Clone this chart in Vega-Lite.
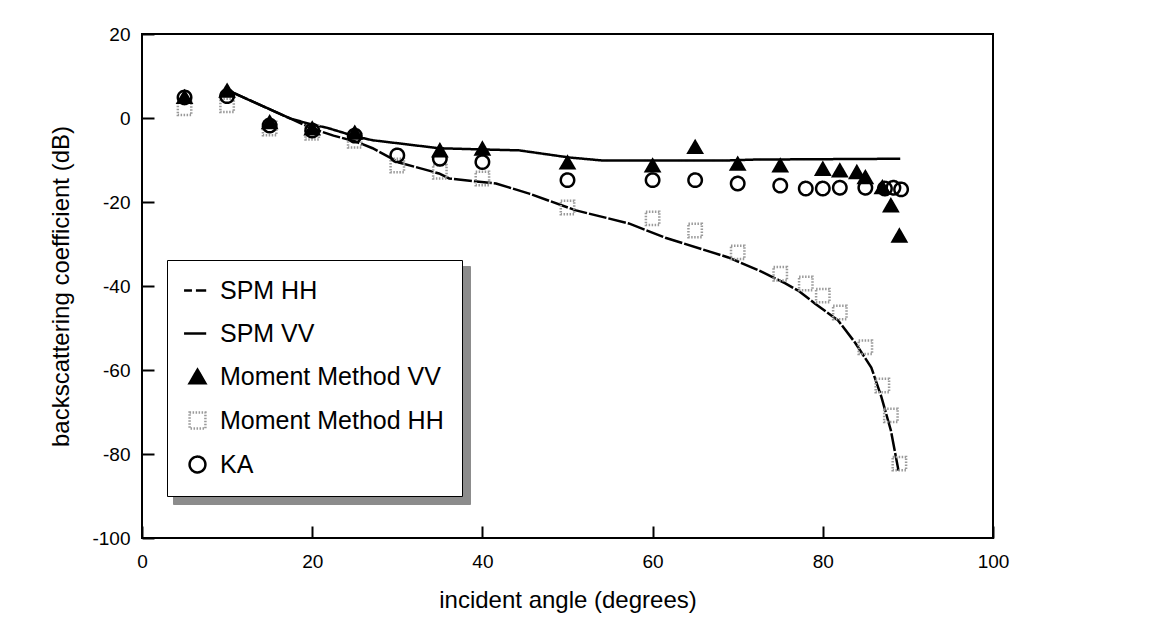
{
  "$schema": "https://vega.github.io/schema/vega-lite/v6.json",
  "width": 851,
  "height": 504,
  "autosize": {"type": "none"},
  "padding": {"left": 142, "top": 34, "right": 165, "bottom": 98},
  "background": "white",
  "config": {
    "view": {"stroke": "black", "strokeWidth": 2},
    "axis": {
      "domain": false,
      "grid": false,
      "labelFont": "Liberation Sans",
      "labelFontSize": 19,
      "labelColor": "black",
      "labelFlush": false,
      "titleFont": "Liberation Sans",
      "titleFontSize": 24,
      "titleFontWeight": "normal",
      "titleColor": "black",
      "tickColor": "black",
      "tickWidth": 2,
      "tickSize": 12
    },
    "legend": {
      "orient": "none",
      "legendX": 25,
      "legendY": 226,
      "strokeColor": "black",
      "fillColor": "white",
      "padding": 18,
      "labelFont": "Liberation Sans",
      "labelFontSize": 25,
      "labelColor": "black",
      "labelLimit": 500,
      "symbolSize": 250,
      "symbolStrokeWidth": 2.5,
      "symbolOpacity": 1,
      "rowPadding": 17,
      "labelOffset": 10,
      "zindex": 2
    }
  },
  "datasets": {
    "lines": [
      {"series": "SPM HH", "angle": 10.5, "db": 6.2},
      {"series": "SPM HH", "angle": 17.4, "db": -0.1},
      {"series": "SPM HH", "angle": 20, "db": -2.5},
      {"series": "SPM HH", "angle": 22.5, "db": -4.2},
      {"series": "SPM HH", "angle": 25.1, "db": -5.6},
      {"series": "SPM HH", "angle": 27.1, "db": -7.2},
      {"series": "SPM HH", "angle": 30.2, "db": -10.6},
      {"series": "SPM HH", "angle": 34.9, "db": -13.2},
      {"series": "SPM HH", "angle": 36.1, "db": -14.4},
      {"series": "SPM HH", "angle": 41.6, "db": -15.6},
      {"series": "SPM HH", "angle": 45.5, "db": -18},
      {"series": "SPM HH", "angle": 51, "db": -22},
      {"series": "SPM HH", "angle": 57.2, "db": -25.1},
      {"series": "SPM HH", "angle": 61.5, "db": -28.5},
      {"series": "SPM HH", "angle": 68.9, "db": -33.2},
      {"series": "SPM HH", "angle": 72.5, "db": -36.3},
      {"series": "SPM HH", "angle": 75.6, "db": -39.4},
      {"series": "SPM HH", "angle": 77.1, "db": -41.1},
      {"series": "SPM HH", "angle": 79.1, "db": -44.2},
      {"series": "SPM HH", "angle": 81.8, "db": -48.2},
      {"series": "SPM HH", "angle": 83.8, "db": -53.5},
      {"series": "SPM HH", "angle": 85.7, "db": -59.4},
      {"series": "SPM HH", "angle": 86.9, "db": -66.5},
      {"series": "SPM HH", "angle": 88, "db": -74.4},
      {"series": "SPM HH", "angle": 88.9, "db": -84},
      {"series": "SPM VV", "angle": 10.5, "db": 6.2},
      {"series": "SPM VV", "angle": 17.4, "db": -0.1},
      {"series": "SPM VV", "angle": 20, "db": -1.6},
      {"series": "SPM VV", "angle": 21.7, "db": -2.3},
      {"series": "SPM VV", "angle": 25.1, "db": -4.4},
      {"series": "SPM VV", "angle": 27.1, "db": -5.3},
      {"series": "SPM VV", "angle": 30, "db": -6},
      {"series": "SPM VV", "angle": 34.9, "db": -7.2},
      {"series": "SPM VV", "angle": 40.2, "db": -7.5},
      {"series": "SPM VV", "angle": 44.3, "db": -7.7},
      {"series": "SPM VV", "angle": 50.2, "db": -9.4},
      {"series": "SPM VV", "angle": 54, "db": -10.1},
      {"series": "SPM VV", "angle": 68.9, "db": -10.1},
      {"series": "SPM VV", "angle": 72, "db": -9.9},
      {"series": "SPM VV", "angle": 89.1, "db": -9.7}
    ],
    "points": [
      {"series": "Moment Method HH", "angle": 5, "db": 2.3},
      {"series": "Moment Method HH", "angle": 10, "db": 3},
      {"series": "Moment Method HH", "angle": 15, "db": -2.5},
      {"series": "Moment Method HH", "angle": 20, "db": -3.5},
      {"series": "Moment Method HH", "angle": 25, "db": -5.4},
      {"series": "Moment Method HH", "angle": 30, "db": -11.3},
      {"series": "Moment Method HH", "angle": 35, "db": -12.8},
      {"series": "Moment Method HH", "angle": 40, "db": -14.4},
      {"series": "Moment Method HH", "angle": 50, "db": -21.3},
      {"series": "Moment Method HH", "angle": 60, "db": -23.9},
      {"series": "Moment Method HH", "angle": 65, "db": -26.8},
      {"series": "Moment Method HH", "angle": 70, "db": -32},
      {"series": "Moment Method HH", "angle": 75, "db": -37.1},
      {"series": "Moment Method HH", "angle": 78, "db": -39.4},
      {"series": "Moment Method HH", "angle": 80, "db": -42.3},
      {"series": "Moment Method HH", "angle": 82, "db": -46.3},
      {"series": "Moment Method HH", "angle": 85, "db": -54.6},
      {"series": "Moment Method HH", "angle": 87, "db": -63.7},
      {"series": "Moment Method HH", "angle": 88, "db": -70.8},
      {"series": "Moment Method HH", "angle": 89, "db": -82.3},
      {"series": "KA", "angle": 5, "db": 4.9},
      {"series": "KA", "angle": 10, "db": 5.2},
      {"series": "KA", "angle": 15, "db": -1.8},
      {"series": "KA", "angle": 20, "db": -3},
      {"series": "KA", "angle": 25, "db": -4.2},
      {"series": "KA", "angle": 30, "db": -8.9},
      {"series": "KA", "angle": 35, "db": -9.7},
      {"series": "KA", "angle": 40, "db": -10.5},
      {"series": "KA", "angle": 50, "db": -14.8},
      {"series": "KA", "angle": 60, "db": -14.8},
      {"series": "KA", "angle": 65, "db": -14.8},
      {"series": "KA", "angle": 70, "db": -15.6},
      {"series": "KA", "angle": 75, "db": -16.1},
      {"series": "KA", "angle": 78, "db": -16.8},
      {"series": "KA", "angle": 80, "db": -16.8},
      {"series": "KA", "angle": 82, "db": -16.6},
      {"series": "KA", "angle": 85, "db": -16.6},
      {"series": "KA", "angle": 87.3, "db": -16.8},
      {"series": "KA", "angle": 88.3, "db": -16.6},
      {"series": "KA", "angle": 89.2, "db": -17},
      {"series": "Moment Method VV", "angle": 5, "db": 5},
      {"series": "Moment Method VV", "angle": 10, "db": 6.5},
      {"series": "Moment Method VV", "angle": 15, "db": -1},
      {"series": "Moment Method VV", "angle": 20, "db": -2.5},
      {"series": "Moment Method VV", "angle": 25, "db": -3.5},
      {"series": "Moment Method VV", "angle": 35, "db": -7.7},
      {"series": "Moment Method VV", "angle": 40, "db": -7.3},
      {"series": "Moment Method VV", "angle": 50, "db": -10.6},
      {"series": "Moment Method VV", "angle": 60, "db": -11.3},
      {"series": "Moment Method VV", "angle": 65, "db": -6.9},
      {"series": "Moment Method VV", "angle": 70, "db": -10.9},
      {"series": "Moment Method VV", "angle": 75, "db": -11.3},
      {"series": "Moment Method VV", "angle": 80, "db": -12.1},
      {"series": "Moment Method VV", "angle": 82, "db": -12.5},
      {"series": "Moment Method VV", "angle": 84, "db": -12.9},
      {"series": "Moment Method VV", "angle": 85, "db": -14.1},
      {"series": "Moment Method VV", "angle": 87, "db": -16.5},
      {"series": "Moment Method VV", "angle": 88, "db": -20.8},
      {"series": "Moment Method VV", "angle": 89, "db": -28}
    ]
  },
  "encoding": {
    "x": {
      "field": "angle",
      "type": "quantitative",
      "scale": {"domain": [0, 100], "nice": false, "zero": false},
      "axis": {"values": [0, 20, 40, 60, 80, 100], "title": "incident angle (degrees)", "offset": -12, "labelPadding": 14, "titlePadding": 17, "labelExpr": "'' + datum.value"}
    },
    "y": {
      "field": "db",
      "type": "quantitative",
      "scale": {"domain": [-100, 20], "nice": false, "zero": false},
      "axis": {"values": [-100, -80, -60, -40, -20, 0, 20], "title": "backscattering coefficient (dB)", "offset": -12, "labelPadding": 12, "titlePadding": 18, "labelExpr": "'' + datum.value"}
    }
  },
  "layer": [
    {
      "data": {"values": [{}]},
      "mark": {"type": "rule", "color": "black", "strokeWidth": 2},
      "encoding": {"y": {"datum": 0}, "x": null}
    },
    {
      "data": {"name": "lines"},
      "mark": {"type": "line", "strokeWidth": 2.5},
      "encoding": {
        "stroke": {
          "field": "series", "type": "nominal", "title": null,
          "scale": {"domain": ["SPM HH", "SPM VV", "Moment Method VV", "Moment Method HH", "KA"], "range": ["black", "black", "black", "#9a9a9a", "black"]}
        },
        "strokeDash": {
          "field": "series", "type": "nominal", "title": null,
          "scale": {"domain": ["SPM HH", "SPM VV", "Moment Method VV", "Moment Method HH", "KA"], "range": [[18, 2], [1, 0], [1, 0], [1.5, 1.5], [1, 0]]}
        }
      }
    },
    {
      "data": {"name": "points"},
      "mark": {"type": "point", "size": 180, "strokeWidth": 2.5, "opacity": 1},
      "encoding": {
        "shape": {
          "field": "series", "type": "nominal", "title": null,
          "scale": {"domain": ["SPM HH", "SPM VV", "Moment Method VV", "Moment Method HH", "KA"], "range": ["M-1.7,0H-0.7M-0.2,0H1.1", "M-1.7,0H1.1", "triangle-up", "square", "circle"]}
        },
        "fill": {
          "field": "series", "type": "nominal", "title": null,
          "scale": {"domain": ["SPM HH", "SPM VV", "Moment Method VV", "Moment Method HH", "KA"], "range": ["transparent", "transparent", "black", "transparent", "transparent"]}
        },
        "stroke": {
          "field": "series", "type": "nominal", "title": null,
          "scale": {"domain": ["SPM HH", "SPM VV", "Moment Method VV", "Moment Method HH", "KA"], "range": ["black", "black", "black", "#9a9a9a", "black"]}
        },
        "strokeDash": {
          "field": "series", "type": "nominal", "title": null,
          "scale": {"domain": ["SPM HH", "SPM VV", "Moment Method VV", "Moment Method HH", "KA"], "range": [[18, 2], [1, 0], [1, 0], [1.5, 1.5], [1, 0]]}
        },
        "opacity": {
          "field": "series", "type": "nominal", "title": null,
          "scale": {"domain": ["KA", "Moment Method HH", "Moment Method VV", "SPM VV", "SPM HH"], "range": [1, 1, 1, 1, 1]},
          "legend": {
            "legendX": 31, "legendY": 232, "fillColor": "#8c8c8c", "strokeColor": "#8c8c8c",
            "labelExpr": "''", "labelOffset": 236, "symbolOpacity": 0, "zindex": 1
          }
        }
      }
    }
  ]
}
